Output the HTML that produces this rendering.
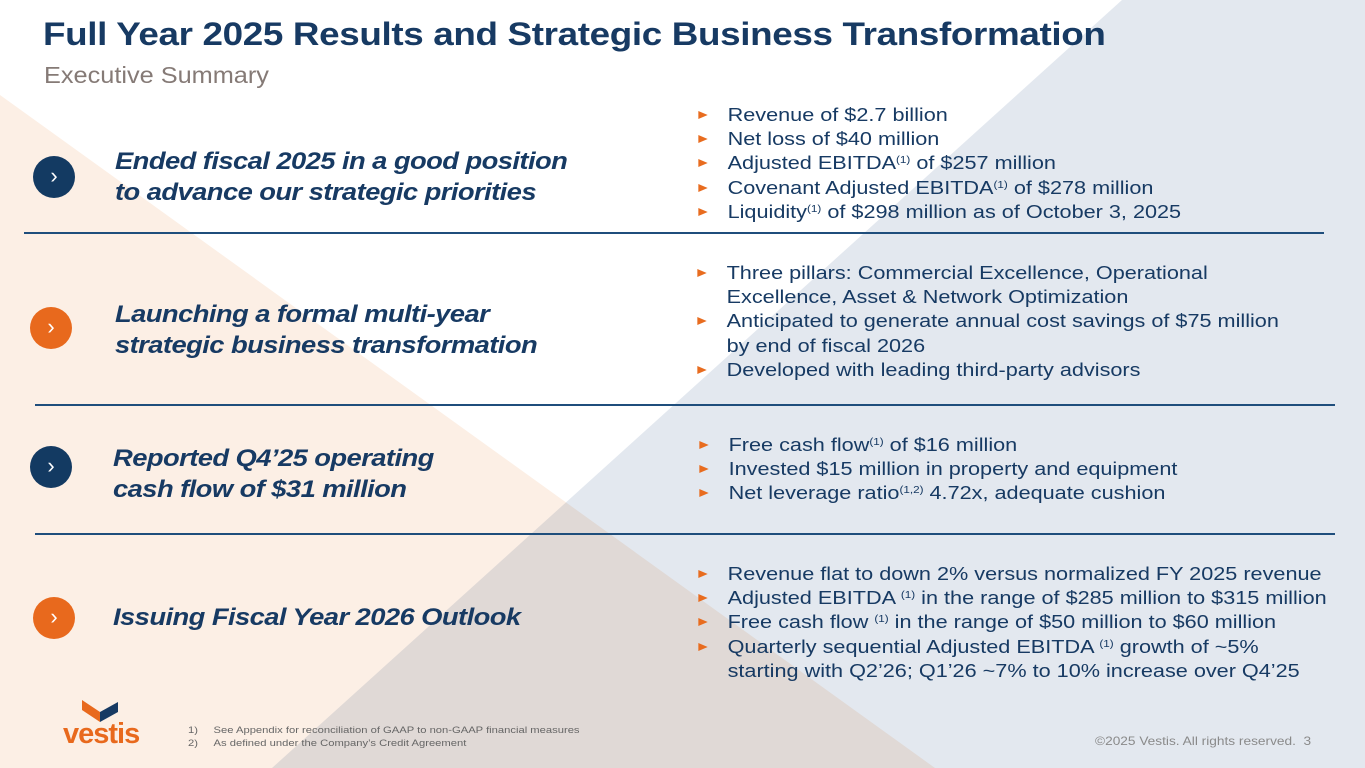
<!DOCTYPE html>
<html><head><meta charset="utf-8"><style>
body{margin:0;width:1365px;height:768px;position:relative;overflow:hidden;background:#fff;font-family:"Liberation Sans",sans-serif;color:#173a63}
.a{position:absolute;white-space:nowrap;transform-origin:0 0}
h1{position:absolute;left:43px;top:16px;margin:0;font-size:32px;font-weight:bold;color:#173a63;letter-spacing:-0.3px;white-space:nowrap;transform:scaleX(1.15);transform-origin:0 0}
.sub{left:44px;top:62px;font-size:23px;color:#857a76;transform:scaleX(1.1)}
.hd{font-size:24px;font-style:italic;font-weight:bold;line-height:31px;color:#173a63;letter-spacing:-0.5px;transform:scaleX(1.14)}
.b{font-size:18.5px;line-height:24.2px;color:#173a63;transform:scaleX(1.17)}
.b div{position:relative;padding-left:27px}
.b div.t:before{content:"";position:absolute;left:2px;top:8px;border-left:8px solid #e86c1f;border-top:4.5px solid transparent;border-bottom:4.5px solid transparent}
.circ{position:absolute;width:42px;height:42px;border-radius:50%;color:#fff;font-size:22px;text-align:center;line-height:40px}
.ln{position:absolute;height:1.5px;background:#1f4e7c}
sup{font-size:10px;vertical-align:top;position:relative;top:-2px}
</style></head><body>
<svg width="1365" height="768" style="position:absolute;left:0;top:0">
<polygon points="0,95 0,768 935,768" fill="#fcefe5"/>
<polygon points="1122,0 1365,0 1365,768 272,768" fill="#e3e8ef" style="mix-blend-mode:multiply"/>
</svg>
<h1>Full Year 2025 Results and Strategic Business Transformation</h1>
<div class="a sub">Executive Summary</div>

<div class="circ" style="left:33px;top:156px;background:#133a62">&#x203A;</div>
<div class="a hd" style="left:115px;top:146px">Ended fiscal 2025 in a good position<br>to advance our strategic priorities</div>
<div class="a b" style="left:696px;top:103px">
<div class="t">Revenue of $2.7 billion</div>
<div class="t">Net loss of $40 million</div>
<div class="t">Adjusted EBITDA<sup>(1)</sup> of $257 million</div>
<div class="t">Covenant Adjusted EBITDA<sup>(1)</sup> of $278 million</div>
<div class="t">Liquidity<sup>(1)</sup> of $298 million as of October 3, 2025</div>
</div>
<div class="ln" style="left:24px;width:1300px;top:232px"></div>

<div class="circ" style="left:30px;top:307px;background:#e8691d">&#x203A;</div>
<div class="a hd" style="left:115px;top:299px">Launching a formal multi-year<br>strategic business transformation</div>
<div class="a b" style="left:695px;top:261px">
<div class="t">Three pillars: Commercial Excellence, Operational</div>
<div>Excellence, Asset &amp; Network Optimization</div>
<div class="t">Anticipated to generate annual cost savings of $75 million</div>
<div>by end of fiscal 2026</div>
<div class="t">Developed with leading third-party advisors</div>
</div>
<div class="ln" style="left:35px;width:1300px;top:404px"></div>

<div class="circ" style="left:30px;top:446px;background:#133a62">&#x203A;</div>
<div class="a hd" style="left:113px;top:443px">Reported Q4’25 operating<br>cash flow of $31 million</div>
<div class="a b" style="left:697px;top:433px">
<div class="t">Free cash flow<sup>(1)</sup> of $16 million</div>
<div class="t">Invested $15 million in property and equipment</div>
<div class="t">Net leverage ratio<sup>(1,2)</sup> 4.72x, adequate cushion</div>
</div>
<div class="ln" style="left:35px;width:1300px;top:533px"></div>

<div class="circ" style="left:33px;top:597px;background:#e8691d">&#x203A;</div>
<div class="a hd" style="left:113px;top:602px">Issuing Fiscal Year 2026 Outlook</div>
<div class="a b" style="left:696px;top:562px">
<div class="t">Revenue flat to down 2% versus normalized FY 2025 revenue</div>
<div class="t">Adjusted EBITDA <sup>(1)</sup> in the range of $285 million to $315 million</div>
<div class="t">Free cash flow <sup>(1)</sup> in the range of $50 million to $60 million</div>
<div class="t">Quarterly sequential Adjusted EBITDA <sup>(1)</sup> growth of ~5%</div>
<div>starting with Q2’26; Q1’26 ~7% to 10% increase over Q4’25</div>
</div>

<svg width="50" height="28" style="position:absolute;left:78px;top:698px">
<polygon points="4,2 22,14 22,24 4,12" fill="#e8691d"/>
<polygon points="22,14 40,4 40,14 22,24" fill="#173a63"/>
</svg>
<div class="a" style="left:63px;top:718px;font-size:29px;font-weight:bold;color:#e8691d;letter-spacing:-1px">vestis</div>
<div class="a" style="left:188px;top:724px;font-size:9.5px;line-height:13px;color:#666;transform:scaleX(1.18)">1)&nbsp;&nbsp;&nbsp;&nbsp;&nbsp;See Appendix for reconciliation of GAAP to non-GAAP financial measures<br>2)&nbsp;&nbsp;&nbsp;&nbsp;&nbsp;As defined under the Company’s Credit Agreement</div>
<div class="a" style="left:1095px;top:734px;font-size:12px;color:#8a8a8a;transform:scaleX(1.14)">©2025 Vestis. All rights reserved.&nbsp; 3</div>
</body></html>
